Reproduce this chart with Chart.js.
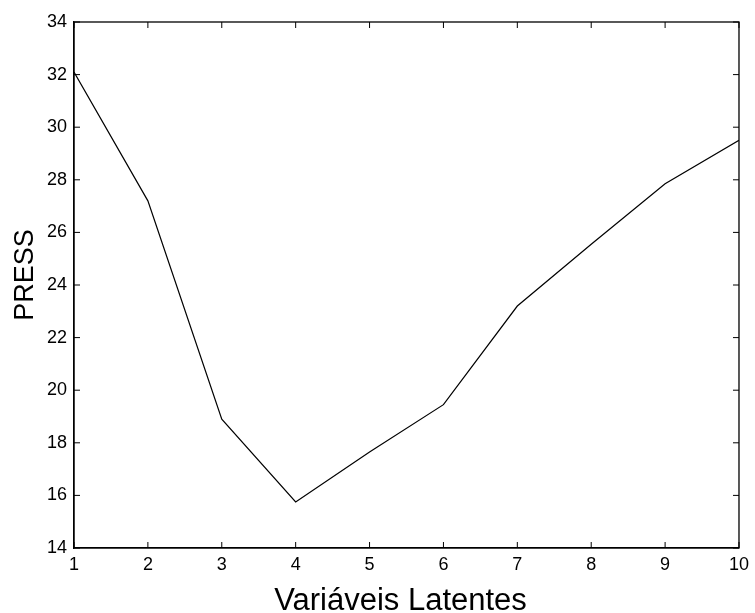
<!DOCTYPE html>
<html>
<head>
<meta charset="utf-8">
<script src="https://cdn.jsdelivr.net/npm/chart.js@4.4.1/dist/chart.umd.min.js"></script>
<style>
html,body{margin:0;padding:0;background:#fff;}
#wrap{width:755px;height:613px;}
</style>
</head>
<body>
<div id="wrap"><canvas id="c" width="755" height="613"></canvas></div>
<script>
const latentVariables = [1, 2, 3, 4, 5, 6, 7, 8, 9, 10];
const pressValues = [32.1, 27.2, 18.9, 15.75, 17.65, 19.45, 23.2, 25.55, 27.85, 29.5];
const xTitle = "Variáveis Latentes";
const yTitle = "PRESS";

const FONT = "'Liberation Sans', Arial, sans-serif";

const framePlugin = {
  id: 'frame',
  afterDraw(chart) {
    const {ctx, chartArea: a, scales} = chart;
    ctx.save();
    ctx.strokeStyle = '#000';
    ctx.lineWidth = 1.3;
    ctx.strokeRect(a.left, a.top, a.right - a.left, a.bottom - a.top);
    const L = 6;
    ctx.beginPath();
    scales.x.ticks.forEach((t, i) => {
      const px = scales.x.getPixelForTick(i);
      ctx.moveTo(px, a.bottom); ctx.lineTo(px, a.bottom - L);
      ctx.moveTo(px, a.top); ctx.lineTo(px, a.top + L);
    });
    scales.y.ticks.forEach((t, i) => {
      const py = scales.y.getPixelForTick(i);
      ctx.moveTo(a.left, py); ctx.lineTo(a.left + L, py);
      ctx.moveTo(a.right, py); ctx.lineTo(a.right - L, py);
    });
    ctx.lineWidth = 1;
    ctx.stroke();
    // axis titles
    ctx.fillStyle = '#000';
    ctx.textAlign = 'center';
    ctx.textBaseline = 'alphabetic';
    ctx.font = "31px " + FONT;
    ctx.fillText(xTitle, (a.left + a.right) / 2 - 6, 610);
    ctx.translate(33, (a.top + a.bottom) / 2 - 10);
    ctx.rotate(-Math.PI / 2);
    ctx.font = "27px " + FONT;
    ctx.fillText(yTitle, 0, 0);
    ctx.restore();
  }
};

new Chart(document.getElementById('c'), {
  type: 'scatter',
  data: {
    datasets: [{
      data: latentVariables.map((x, i) => ({x: x, y: pressValues[i]})),
      showLine: true,
      borderColor: '#000',
      borderWidth: 1.2,
      pointRadius: 0,
      tension: 0,
      fill: false
    }]
  },
  options: {
    responsive: false,
    animation: false,
    devicePixelRatio: 1,
    layout: {padding: {top: 22, right: 14, left: 0, bottom: 0}},
    plugins: {legend: {display: false}, tooltip: {enabled: false}},
    scales: {
      x: {
        type: 'linear', min: 1, max: 10,
        afterFit(s) { s.height = 65; },
        ticks: {stepSize: 1, color: '#000', font: {family: FONT, size: 18}, padding: 6, maxRotation: 0},
        grid: {drawOnChartArea: false, drawTicks: false},
        border: {display: true, color: '#000', width: 1.3},
        title: {display: false}
      },
      y: {
        type: 'linear', min: 14, max: 34,
        afterFit(s) { s.width = 74; },
        ticks: {stepSize: 2, color: '#000', font: {family: FONT, size: 18}, padding: 7},
        grid: {drawOnChartArea: false, drawTicks: false},
        border: {display: true, color: '#000', width: 1.3},
        title: {display: false}
      }
    }
  },
  plugins: [framePlugin]
});
</script>
</body>
</html>
